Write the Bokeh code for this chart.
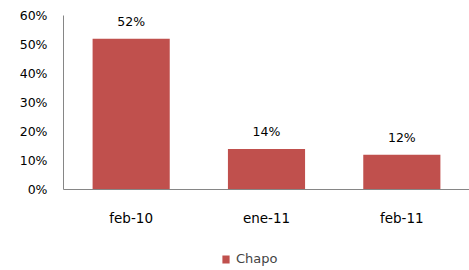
from bokeh.plotting import figure
from bokeh.layouts import column
from bokeh.models import ColumnDataSource, Legend, LegendItem, NumeralTickFormatter, FixedTicker, Range1d, FactorRange
from bokeh.core.properties import value
from bokeh.embed import file_html
from bokeh.resources import INLINE

categories = ["feb-10", "ene-11", "feb-11"]
chapo = [0.52, 0.14, 0.12]
labels = ["52%", "14%", "12%"]
y_ticks = [0, 0.1, 0.2, 0.3, 0.4, 0.5, 0.6]
series_name = "Chapo"

FONT = "DejaVu Sans"
BAR = "#C0504D"
src = ColumnDataSource(dict(x=categories, y=chapo, lab=labels))

xr = FactorRange(factors=categories, range_padding=0)
p = figure(x_range=xr, y_range=Range1d(0, 0.6),
           width=469, height=232, output_backend="svg", toolbar_location=None,
           min_border_left=63, min_border_right=0, min_border_top=15, min_border_bottom=43)
p.outline_line_color = None
p.grid.grid_line_color = None
p.background_fill_color = "white"

r = p.vbar(x="x", top="y", width=0.57, source=src, fill_color=BAR, line_color=None)
p.text(x="x", y="y", text="lab", source=src, text_align="center", text_baseline="middle",
       y_offset=-17, text_font=value(FONT), text_font_size="12.5px", text_color="#000000")

p.yaxis.ticker = FixedTicker(ticks=y_ticks)
p.yaxis.formatter = NumeralTickFormatter(format="0%")
for ax in (p.xaxis, p.yaxis):
    ax.axis_line_color = "#868686"
    ax.major_tick_line_color = None
    ax.minor_tick_line_color = None
    ax.major_tick_out = 0
    ax.major_tick_in = 0
    ax.minor_tick_out = 0
    ax.major_label_text_font = FONT
    ax.major_label_text_color = "#000000"
p.yaxis.major_label_text_font_size = "12.5px"
p.xaxis.major_label_text_font_size = "13.5px"
p.yaxis.major_label_standoff = 16
p.xaxis.major_label_standoff = 20

# legend strip below the chart (bars kept out of its visible range; only the swatch shows)
p2 = figure(width=469, height=38, output_backend="svg", toolbar_location=None,
            x_axis_location=None, y_axis_location=None, min_border=0,
            x_range=xr, y_range=Range1d(10, 11))
p2.outline_line_color = None
p2.grid.grid_line_color = None
r2 = p2.vbar(x="x", top="y", width=0.57, source=src, fill_color=BAR, line_color=None)
legend = Legend(items=[LegendItem(label=series_name, renderers=[r2])], location=(158, 4),
                orientation="horizontal", border_line_color=None, background_fill_alpha=0,
                label_text_font=FONT, label_text_font_size="13px", glyph_width=9, glyph_height=10,
                label_standoff=6, margin=0, padding=0, label_height=13)
p2.add_layout(legend)

open("out.html", "w").write(file_html(column(p, p2), INLINE))
